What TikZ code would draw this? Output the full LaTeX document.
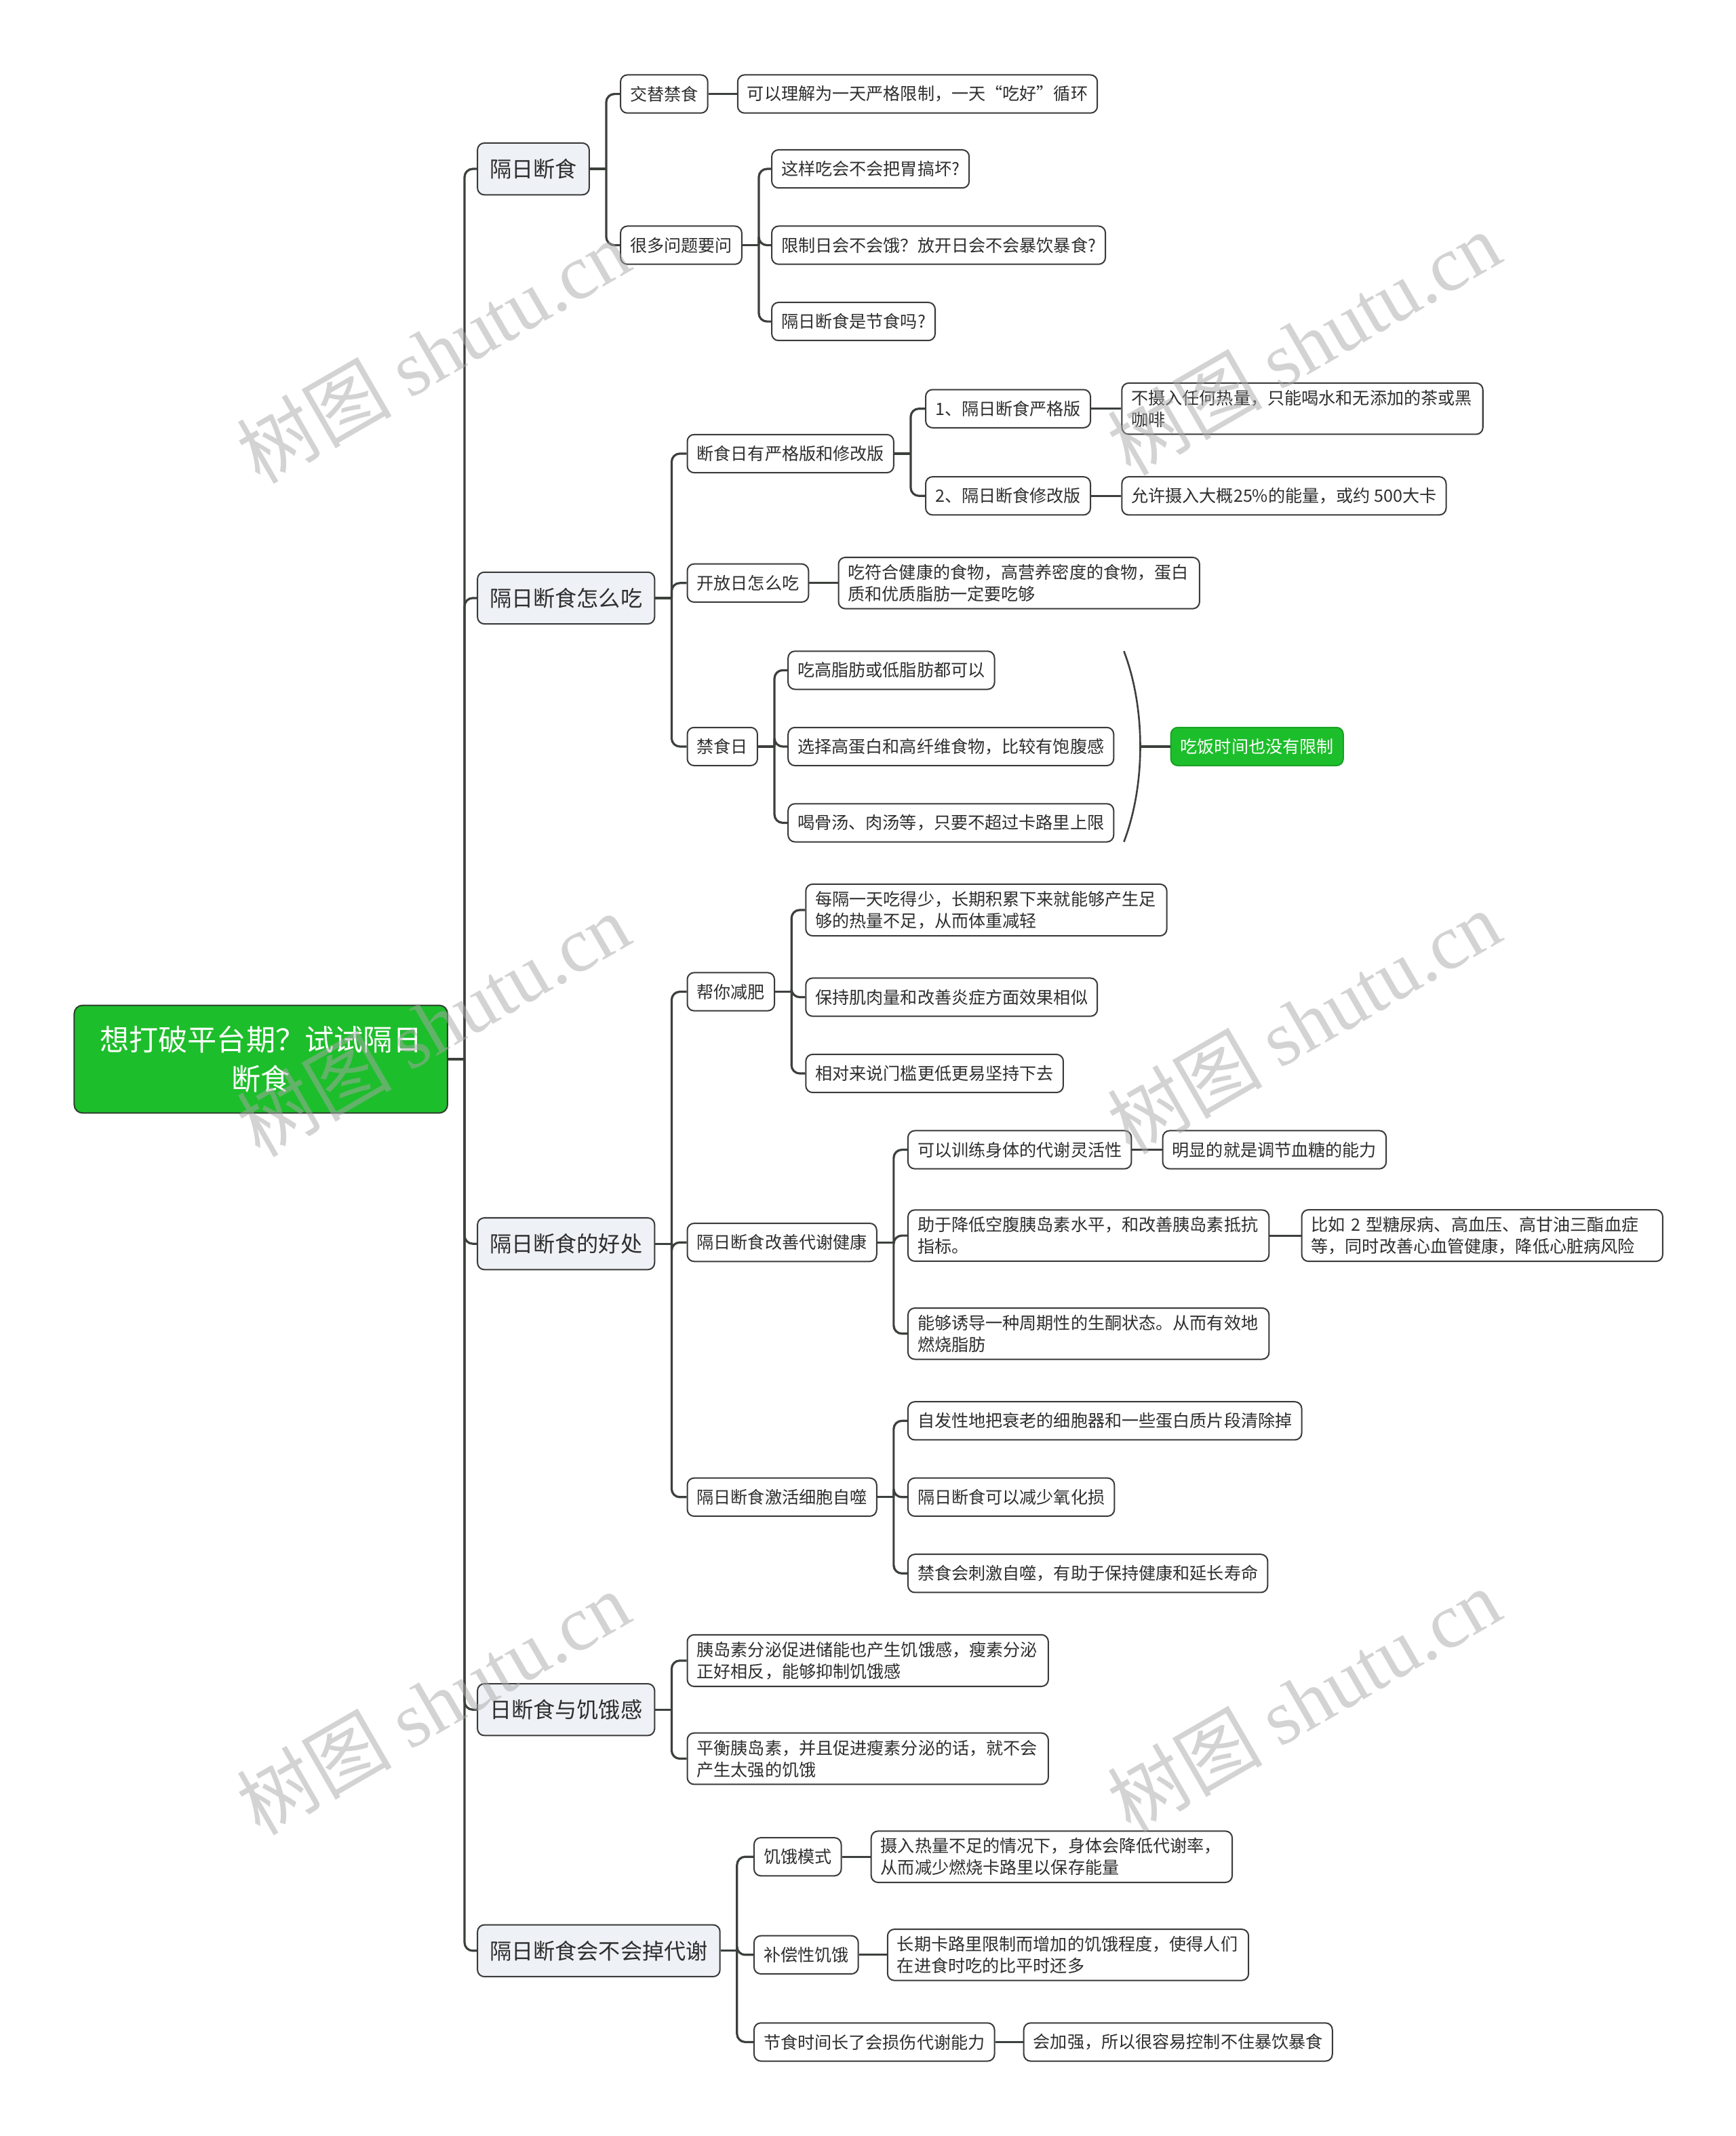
\documentclass[tikz,border=0pt]{standalone}
\usepackage{fontspec}
\setmainfont{Noto Sans CJK SC}
\newfontfamily\wmserif{Liberation Serif}
\definecolor{linecol}{HTML}{3C403C}
\definecolor{bordercol}{HTML}{3A3A3A}
\definecolor{txtcol}{HTML}{2E2E2E}
\definecolor{rootgreen}{HTML}{1DBE2B}
\definecolor{rootborder}{HTML}{2E3E2E}
\definecolor{lonefill}{HTML}{EEF1F5}
\definecolor{wmcol}{HTML}{A8A8A8}
\tikzset{
  leaf/.style={draw=bordercol, line width=1pt, rounded corners=5pt, fill=white,
    font=\fontsize{12.5}{16}\selectfont, text=txtcol, inner xsep=7pt, inner ysep=5pt,
    minimum height=28pt, anchor=west, align=left},
  twoline/.style={leaf, text width=251pt},
  lone/.style={leaf, fill=lonefill, font=\fontsize{16}{20}\selectfont, inner xsep=9pt, minimum height=38pt},
  rootnode/.style={draw=rootborder, line width=1pt, rounded corners=6pt, fill=rootgreen,
    text=white, font=\fontsize{21.5}{29}\selectfont, text width=240pt, align=center,
    inner xsep=17pt, minimum height=79pt, anchor=west},
  sumnode/.style={leaf, draw=rootgreen!85!black, fill=rootgreen, text=white},
  conn/.style={draw=linecol, line width=1.6pt},
  wm/.style={text=wmcol, opacity=0.5, rotate=30, font=\fontsize{57}{60}\selectfont}
}
\newcommand{\lnk}[2]{%
  \draw[conn] (#1.east) -- ([xshift=12pt]#1.east);
  \draw[conn, rounded corners=6pt] ([xshift=12pt]#1.east) |- (#2.west);}
\begin{document}
\begin{tikzpicture}[x=1pt, y=-1pt]
\useasboundingbox (0,0) rectangle (1274,1568);
\fill[white] (0,0) rectangle (1274,1568);

% root and level 1
\node[rootnode] (root) at (54,777.5) {想打破平台期？试试隔日\\断食};
\node[lone] (n1) at (350,124) {隔日断食};
\node[lone] (n2) at (350,439) {隔日断食怎么吃};
\node[lone] (n3) at (350,913) {隔日断食的好处};
\node[lone] (n4) at (350,1255) {日断食与饥饿感};
\node[lone] (n5) at (350,1432) {隔日断食会不会掉代谢};

% branch 1
\node[leaf] (a1) at (455,69) {交替禁食};
\node[leaf] (a1c) at (541,69) {可以理解为一天严格限制，一天“吃好”循环};
\node[leaf] (a2) at (455,180) {很多问题要问};
\node[leaf] (a21) at (566,124) {这样吃会不会把胃搞坏?};
\node[leaf] (a22) at (566,180) {限制日会不会饿？放开日会不会暴饮暴食?};
\node[leaf] (a23) at (566,236) {隔日断食是节食吗?};

% branch 2
\node[leaf] (b1) at (504,333) {断食日有严格版和修改版};
\node[leaf] (b11) at (679,300) {1、隔日断食严格版};
\node[twoline] (b11c) at (823,300) {不摄入任何热量，只能喝水和无添加的茶或黑\\咖啡};
\node[leaf] (b12) at (679,364) {2、隔日断食修改版};
\node[leaf] (b12c) at (823,364) {允许摄入大概25\%的能量，或约 500大卡};
\node[leaf] (b2) at (504,428) {开放日怎么吃};
\node[twoline] (b2c) at (615,428) {吃符合健康的食物，高营养密度的食物，蛋白\\质和优质脂肪一定要吃够};
\node[leaf] (b3) at (504,548) {禁食日};
\node[leaf] (b31) at (578,492) {吃高脂肪或低脂肪都可以};
\node[leaf] (b32) at (578,548) {选择高蛋白和高纤维食物，比较有饱腹感};
\node[leaf] (b33) at (578,604) {喝骨汤、肉汤等，只要不超过卡路里上限};
\node[sumnode] (sum) at (859,548) {吃饭时间也没有限制};

% branch 3
\node[leaf] (c1) at (504,728) {帮你减肥};
\node[twoline] (c11) at (591,668) {每隔一天吃得少，长期积累下来就能够产生足\\够的热量不足，从而体重减轻};
\node[leaf] (c12) at (591,732) {保持肌肉量和改善炎症方面效果相似};
\node[leaf] (c13) at (591,788) {相对来说门槛更低更易坚持下去};
\node[leaf] (c2) at (504,912) {隔日断食改善代谢健康};
\node[leaf] (c21) at (666,844) {可以训练身体的代谢灵活性};
\node[leaf] (c21c) at (853,844) {明显的就是调节血糖的能力};
\node[twoline] (c22) at (666,907) {助于降低空腹胰岛素水平，和改善胰岛素抵抗\\指标。};
\node[twoline] (c22c) at (955,907) {比如 2 型糖尿病、高血压、高甘油三酯血症\\等，同时改善心血管健康，降低心脏病风险};
\node[twoline] (c23) at (666,979) {能够诱导一种周期性的生酮状态。从而有效地\\燃烧脂肪};
\node[leaf] (c3) at (504,1099) {隔日断食激活细胞自噬};
\node[leaf] (c31) at (666,1043) {自发性地把衰老的细胞器和一些蛋白质片段清除掉};
\node[leaf] (c32) at (666,1099) {隔日断食可以减少氧化损};
\node[leaf] (c33) at (666,1155) {禁食会刺激自噬，有助于保持健康和延长寿命};

% branch 4
\node[twoline] (d1) at (504,1219) {胰岛素分泌促进储能也产生饥饿感，瘦素分泌\\正好相反，能够抑制饥饿感};
\node[twoline] (d2) at (504,1291) {平衡胰岛素，并且促进瘦素分泌的话，就不会\\产生太强的饥饿};

% branch 5
\node[leaf] (e1) at (553,1363) {饥饿模式};
\node[twoline] (e1c) at (639,1363) {摄入热量不足的情况下，身体会降低代谢率，\\从而减少燃烧卡路里以保存能量};
\node[leaf] (e2) at (553,1435) {补偿性饥饿};
\node[twoline] (e2c) at (651,1435) {长期卡路里限制而增加的饥饿程度，使得人们\\在进食时吃的比平时还多};
\node[leaf] (e3) at (553,1499) {节食时间长了会损伤代谢能力};
\node[leaf] (e3c) at (751,1499) {会加强，所以很容易控制不住暴饮暴食};

% connectors
\lnk{root}{n1}\lnk{root}{n2}\lnk{root}{n3}\lnk{root}{n4}\lnk{root}{n5}
\lnk{n1}{a1}\lnk{n1}{a2}
\draw[conn] (a1.east) -- (a1c.west);
\lnk{a2}{a21}\lnk{a2}{a22}\lnk{a2}{a23}
\lnk{n2}{b1}\lnk{n2}{b2}\lnk{n2}{b3}
\lnk{b1}{b11}\lnk{b1}{b12}
\draw[conn] (b11.east) -- (b11c.west);
\draw[conn] (b12.east) -- (b12c.west);
\draw[conn] (b2.east) -- (b2c.west);
\lnk{b3}{b31}\lnk{b3}{b32}\lnk{b3}{b33}
\coordinate (brt) at (825,478);
\coordinate (brb) at (825,618);
\coordinate (brm) at (837,548);
\draw[draw=linecol, line width=1.3pt] (brt) .. controls (841,520) and (841,576) .. (brb);
\draw[conn] (brm) -- (sum.west);
\lnk{n3}{c1}\lnk{n3}{c2}\lnk{n3}{c3}
\lnk{c1}{c11}\lnk{c1}{c12}\lnk{c1}{c13}
\lnk{c2}{c21}\lnk{c2}{c22}\lnk{c2}{c23}
\draw[conn] (c21.east) -- (c21c.west);
\draw[conn] (c22.east) -- (c22c.west);
\lnk{c3}{c31}\lnk{c3}{c32}\lnk{c3}{c33}
\lnk{n4}{d1}\lnk{n4}{d2}
\lnk{n5}{e1}\lnk{n5}{e2}\lnk{n5}{e3}
\draw[conn] (e1.east) -- (e1c.west);
\draw[conn] (e2.east) -- (e2c.west);
\draw[conn] (e3.east) -- (e3c.west);

% watermarks
\foreach \wx/\wy [count=\i] in {318/258, 957/252, 318/752, 957/750, 318/1250, 957/1248}{
  \node[wm] (wm\i) at (\wx,\wy) {树图 {\wmserif shutu.cn}};
}
\end{tikzpicture}
\end{document}
